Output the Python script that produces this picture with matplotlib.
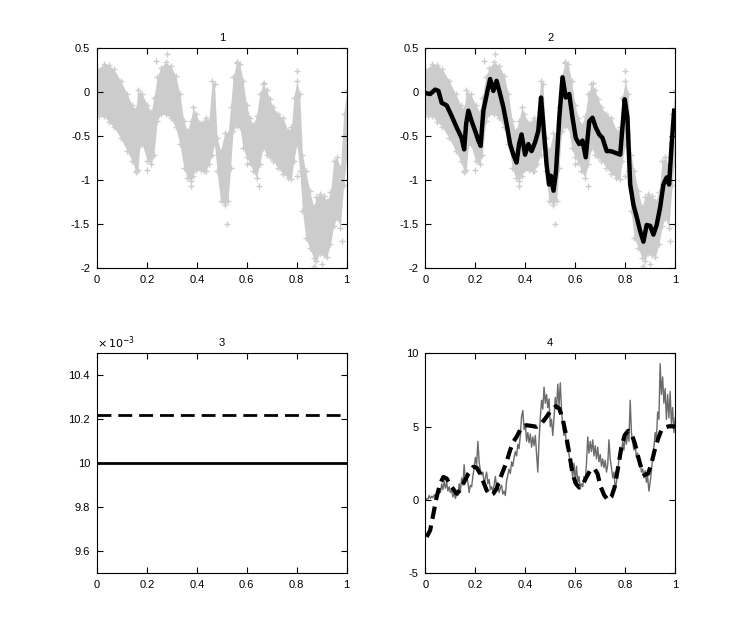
import numpy as np
import matplotlib
matplotlib.use('Agg')
import matplotlib.pyplot as plt
from matplotlib.ticker import FuncFormatter

# ---- panel 1 / 2 : gray cloud of '+' samples (envelope)
cloud_x = [0.0, 0.028, 0.048, 0.068, 0.095, 0.121, 0.141, 0.155, 0.164, 0.172,
           0.181, 0.201, 0.217, 0.228, 0.241, 0.255, 0.275, 0.295, 0.315, 0.332,
           0.348, 0.361, 0.375, 0.385, 0.395, 0.415, 0.435, 0.448, 0.461, 0.471,
           0.481, 0.495, 0.512, 0.525, 0.535, 0.545, 0.559, 0.572, 0.585, 0.599,
           0.612, 0.625, 0.639, 0.652, 0.665, 0.679, 0.692, 0.705, 0.725, 0.745,
           0.765, 0.779, 0.788, 0.801, 0.812, 0.823, 0.836, 0.852, 0.868, 0.879,
           0.892, 0.908, 0.921, 0.935, 0.948, 0.961, 0.975, 0.988, 1.0]
cloud_hi = [0.26, 0.32, 0.31, 0.26, 0.13, -0.02, -0.15, -0.19, 0.02, -0.02,
            -0.02, -0.14, -0.23, -0.06, 0.17, 0.28, 0.34, 0.30, 0.19, -0.02,
            -0.33, -0.44, -0.33, -0.17, -0.25, -0.35, -0.29, -0.33, 0.13, 0.09,
            -0.52, -0.67, -0.46, -0.48, -0.17, 0.17, 0.34, 0.32, 0.13, -0.14,
            -0.29, -0.37, -0.27, -0.02, 0.09, 0.03, -0.08, -0.17, -0.25, -0.29,
            -0.44, -0.40, -0.06, 0.13, -0.02, -0.71, -0.90, -1.12, -1.31, -1.19,
            -1.16, -1.18, -1.24, -1.14, -0.78, -0.74, -0.86, -0.25, 0.02]
cloud_lo = [-0.25, -0.27, -0.34, -0.40, -0.52, -0.67, -0.78, -0.90, -0.88, -0.60,
            -0.59, -0.78, -0.82, -0.71, -0.33, -0.25, -0.25, -0.29, -0.40, -0.59,
            -0.86, -0.97, -1.01, -0.95, -0.88, -0.88, -0.90, -0.82, -0.71, -0.59,
            -0.90, -1.24, -1.28, -1.24, -0.86, -0.44, -0.38, -0.40, -0.63, -0.74,
            -0.80, -0.90, -0.97, -0.82, -0.63, -0.71, -0.74, -0.78, -0.86, -0.93,
            -0.97, -0.99, -0.78, -0.59, -0.90, -1.35, -1.66, -1.77, -1.89, -1.92,
            -1.83, -1.85, -1.87, -1.73, -1.52, -1.43, -1.54, -1.05, -0.74]
# a few stray samples outside the band
stray_x = [0.01, 0.035, 0.155, 0.2, 0.236, 0.28, 0.31, 0.375, 0.43, 0.52, 0.56,
           0.6, 0.65, 0.67, 0.8, 0.8, 0.87, 0.9, 0.93, 0.98]
stray_y = [-0.27, 0.28, -0.91, -0.88, 0.35, 0.43, -0.22, -1.07, -0.9, -1.5, 0.33,
           -0.82, -1.07, 0.1, 0.24, -0.95, -1.98, -1.95, -1.6, -1.69]

# ---- panel 2 : black estimate
est_x = [0.0, 0.019, 0.039, 0.052, 0.065, 0.085, 0.105, 0.125, 0.145, 0.155,
         0.163, 0.172, 0.185, 0.199, 0.212, 0.221, 0.232, 0.245, 0.259, 0.272,
         0.285, 0.299, 0.312, 0.325, 0.339, 0.352, 0.365, 0.375, 0.385, 0.399,
         0.412, 0.425, 0.439, 0.452, 0.463, 0.472, 0.485, 0.495, 0.502, 0.513,
         0.523, 0.536, 0.549, 0.562, 0.576, 0.589, 0.602, 0.616, 0.629, 0.642,
         0.656, 0.669, 0.682, 0.696, 0.709, 0.726, 0.742, 0.762, 0.780, 0.789,
         0.798, 0.809, 0.820, 0.833, 0.847, 0.860, 0.873, 0.886, 0.900, 0.913,
         0.926, 0.940, 0.953, 0.966, 0.976, 0.986, 0.996]
est_y = [-0.01, -0.02, 0.03, 0.015, -0.12, -0.15, -0.27, -0.40, -0.52, -0.65,
         -0.36, -0.21, -0.33, -0.44, -0.55, -0.61, -0.21, -0.03, 0.15, 0.015,
         0.13, -0.02, -0.17, -0.36, -0.59, -0.71, -0.80, -0.59, -0.48, -0.71,
         -0.59, -0.67, -0.57, -0.44, -0.06, -0.36, -0.82, -1.05, -0.95, -1.12,
         -0.90, -0.29, 0.17, -0.06, -0.02, -0.29, -0.52, -0.59, -0.55, -0.74,
         -0.33, -0.29, -0.40, -0.48, -0.52, -0.67, -0.67, -0.69, -0.71, -0.40,
         -0.08, -0.29, -1.05, -1.28, -1.43, -1.58, -1.70, -1.51, -1.52, -1.62,
         -1.51, -1.31, -1.05, -0.97, -1.05, -0.59, -0.21]

# ---- panel 3 : two constant levels
lvl_x = [0.0, 1.0]
lvl_true = [0.0100, 0.0100]
lvl_est = [0.01022, 0.01022]

# ---- panel 4 : gray path (sampled every 0.005) and dashed smooth curve
path_y = [0.0, 0.1, 0.05, 0.3, 0.1, 0.25, 0.15, 0.35, 0.2, 0.4,
          0.3, 0.7, 0.5, 1.1, 0.7, 1.3, 0.8, 1.2, 0.6, 0.9,
          0.5, 0.7, 0.2, 0.5, 0.1, 0.4, 0.3, 1.1, 0.6, 1.5,
          1.0, 2.4, 1.3, 1.7, 1.2, 0.5, 1.0, 0.9, 1.6, 2.2,
          2.9, 2.4, 4.0, 2.6, 2.0, 1.7, 1.9, 1.1, 1.5, 1.9,
          1.1, 1.4, 0.7, 0.9, 0.6, 1.0, 1.6, 0.9, 1.2, 0.5,
          0.8, 1.0, 0.4, 0.6, 0.3, 1.3, 1.7, 2.1, 1.8, 2.6,
          2.3, 2.9, 3.3, 3.0, 3.8, 3.5, 4.4, 5.7, 6.1, 4.8,
          5.2, 4.0, 4.6, 3.9, 4.5, 3.6, 4.3, 3.7, 4.4, 3.2,
          1.9, 4.0, 5.6, 6.8, 6.2, 7.7, 6.6, 7.2, 6.3, 6.9,
          5.0, 5.5, 4.4, 5.6, 7.0, 6.2, 7.9, 6.4, 8.0, 6.2,
          5.0, 4.4, 4.8, 3.6, 4.0, 3.1, 2.6, 2.2, 1.5, 2.5,
          1.3, 2.3, 1.2, 1.6, 0.8, 1.1, 0.9, 1.6, 1.3, 2.5,
          4.3, 3.2, 4.0, 3.3, 4.1, 3.0, 3.7, 2.8, 3.6, 2.6,
          3.1, 2.3, 2.8, 2.2, 2.7, 1.9, 2.4, 4.1, 2.8, 2.2,
          1.5, 1.9, 0.8, 1.2, 1.9, 2.8, 3.6, 3.2, 4.0, 3.4,
          4.5, 3.8, 4.6, 4.0, 6.8, 4.6, 3.9, 3.4, 3.8, 2.9,
          3.2, 2.4, 2.7, 1.9, 2.1, 1.5, 2.0, 1.2, 1.6, 0.6,
          1.2, 2.0, 2.9, 3.6, 4.6, 4.1, 6.0, 5.5, 9.3, 7.2,
          8.4, 6.6, 7.6, 5.5, 7.2, 5.6, 7.4, 5.2, 6.3, 4.6,
          5.6]
path_x = np.linspace(0, 1, len(path_y))
smooth_x = [0.005, 0.019, 0.032, 0.045, 0.059, 0.072, 0.085, 0.105, 0.125, 0.139,
            0.152, 0.172, 0.192, 0.205, 0.219, 0.232, 0.245, 0.259, 0.272, 0.285,
            0.299, 0.312, 0.325, 0.339, 0.352, 0.365, 0.379, 0.392, 0.405, 0.425,
            0.445, 0.465, 0.485, 0.503, 0.523, 0.536, 0.549, 0.562, 0.576, 0.589,
            0.602, 0.616, 0.629, 0.642, 0.660, 0.676, 0.689, 0.702, 0.716, 0.732,
            0.745, 0.758, 0.772, 0.785, 0.798, 0.812, 0.825, 0.839, 0.852, 0.865,
            0.878, 0.892, 0.905, 0.918, 0.932, 0.945, 0.958, 0.976, 0.993, 1.0]
smooth_y = [-2.53, -2.07, -0.93, 0.21, 1.12, 1.57, 1.46, 0.89, 0.43, 0.66,
            1.12, 1.80, 2.26, 2.21, 1.80, 1.23, 0.66, 0.32, 0.43, 0.77,
            1.46, 2.03, 2.60, 3.39, 3.96, 4.31, 4.76, 4.99, 5.10, 5.05,
            4.99, 5.22, 5.67, 6.13, 6.40, 6.24, 5.56, 4.53, 3.17, 1.80,
            1.12, 0.84, 1.00, 1.46, 2.03, 2.14, 1.80, 0.89, 0.32, -0.02,
            0.21, 0.89, 2.26, 3.62, 4.42, 4.72, 4.53, 3.85, 2.94, 2.14,
            1.69, 1.80, 2.48, 3.39, 4.19, 4.76, 4.94, 5.03, 5.03, 4.95]

xticks = [0, 0.2, 0.4, 0.6, 0.8, 1]
gray_cloud = '#cccccc'

plt.rcParams['font.family'] = ['Liberation Sans', 'DejaVu Sans']
plt.rcParams['font.size'] = 8

fig = plt.figure(figsize=(7.46, 6.44), dpi=100)
pos = [[0.13, 0.5838, 0.3347, 0.3412], [0.5703, 0.5838, 0.3347, 0.3412],
       [0.13, 0.11, 0.3347, 0.3412], [0.5703, 0.11, 0.3347, 0.3412]]
axes = [fig.add_axes(p) for p in pos]
fmt = FuncFormatter(lambda v, p: '%g' % round(v, 6))


def draw_cloud(ax):
    ax.fill_between(cloud_x, cloud_lo, cloud_hi, color=gray_cloud, lw=0, zorder=1)
    ax.plot(cloud_x, cloud_hi, '+', color=gray_cloud, ms=5, mew=1, zorder=1)
    ax.plot(cloud_x, cloud_lo, '+', color=gray_cloud, ms=5, mew=1, zorder=1)
    ax.plot(stray_x, stray_y, '+', color=gray_cloud, ms=5, mew=1, zorder=1)


draw_cloud(axes[0])
draw_cloud(axes[1])
axes[1].plot(est_x, est_y, '-', color='k', lw=3.2, zorder=3)
for ax in axes[:2]:
    ax.set_ylim(-2, 0.5)
    ax.set_yticks([-2, -1.5, -1, -0.5, 0, 0.5])

axes[2].plot(lvl_x, lvl_true, '-', color='k', lw=2)
axes[2].plot(lvl_x, lvl_est, '--', color='k', lw=2, dashes=(5, 2.5))
axes[2].set_ylim(0.0095, 0.0105)
axes[2].set_yticks([0.0096, 0.0098, 0.0100, 0.0102, 0.0104])
axes[2].yaxis.set_major_formatter(FuncFormatter(lambda v, p: '%g' % round(v * 1e3, 4)))
axes[2].text(0.0, 1.01, r'$\times\,10^{-3}$', transform=axes[2].transAxes,
             ha='left', va='bottom', fontsize=8)

axes[3].plot(path_x, path_y, '-', color='#6b6b6b', lw=1)
axes[3].plot(smooth_x, smooth_y, '--', color='k', lw=3, dashes=(3, 1.6))
axes[3].set_ylim(-5, 10)
axes[3].set_yticks([-5, 0, 5, 10])

for i, ax in enumerate(axes):
    ax.set_xlim(0, 1)
    ax.set_xticks(xticks)
    ax.xaxis.set_major_formatter(fmt)
    if i != 2:
        ax.yaxis.set_major_formatter(fmt)
    ax.tick_params(direction='in', top=True, right=True, length=4, width=0.8,
                   labelsize=8, pad=5)
    ax.set_title(str(i + 1), fontsize=8, pad=5)
    for s in ax.spines.values():
        s.set_linewidth(0.8)

fig.savefig('out.png', dpi=100)
